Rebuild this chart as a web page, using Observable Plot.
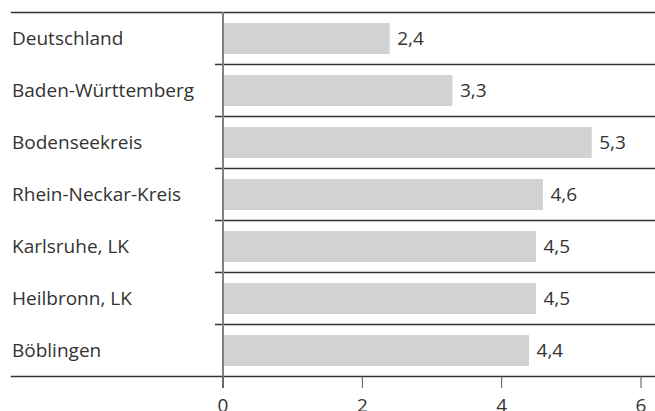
<!DOCTYPE html>
<html>
<head>
<meta charset="utf-8">
<script src="https://cdn.jsdelivr.net/npm/d3@7"></script>
<script src="https://cdn.jsdelivr.net/npm/@observablehq/plot@0.6"></script>
<style>
  html, body { margin: 0; padding: 0; background: #fff; }
  #chart svg { display: block; }
</style>
</head>
<body>
<div id="chart"></div>
<script>
const categories = ["Deutschland", "Baden-Württemberg", "Bodenseekreis", "Rhein-Neckar-Kreis", "Karlsruhe, LK", "Heilbronn, LK", "Böblingen"];
const values = [2.4, 3.3, 5.3, 4.6, 4.5, 4.5, 4.4];
const xTicks = [0, 2, 4, 6];

const data = categories.map((c, i) => ({category: c, value: values[i]}));
const fmt = v => v.toFixed(1).replace(".", ",");

const W = 655, H = 411, mL = 222.5, mR = 14.5, mT = 12, mB = 35;
const step = (H - mT - mB) / categories.length;

const chart = Plot.plot({
  width: W,
  height: H,
  marginLeft: mL,
  marginRight: mR,
  marginTop: mT,
  marginBottom: mB,
  style: {fontFamily: "'Open Sans', sans-serif", fontSize: "19px", color: "#333", background: "#fff", overflow: "visible"},
  x: {domain: [0, 6], ticks: xTicks, label: null},
  y: {domain: categories, padding: 0, label: null},
  marks: [
    Plot.barX(data, {y: "category", x: "value", fill: "#d1d2d4", insetTop: 11, insetBottom: 10}),
    Plot.ruleY(categories.slice(1), {y: d => d, dy: -step / 2, stroke: "#333", strokeWidth: 1.5, insetLeft: -7.5, insetRight: -14.5}),
    Plot.frame({anchor: "top", stroke: "#333", strokeWidth: 1.5, insetLeft: -211.5, insetRight: -14.5}),
    Plot.frame({anchor: "bottom", stroke: "#333", strokeWidth: 1.5, insetLeft: -211.5, insetRight: -14.5}),
    Plot.ruleX([0], {stroke: "#808080", strokeWidth: 2, insetBottom: -12}),
    Plot.axisX({ticks: xTicks, tickSize: 12, tickPadding: 10, stroke: "#555", fill: "#333", tickFormat: d => String(d), fontSize: 19}),
    Plot.axisY({tickSize: 0, textAnchor: "start", dx: -211, tickPadding: 0, fill: "#333", fontSize: 19}),
    Plot.text(data, {y: "category", x: "value", text: d => fmt(d.value), textAnchor: "start", dx: 7, fill: "#333", fontSize: 19})
  ]
});
document.getElementById("chart").appendChild(chart);
</script>
</body>
</html>
